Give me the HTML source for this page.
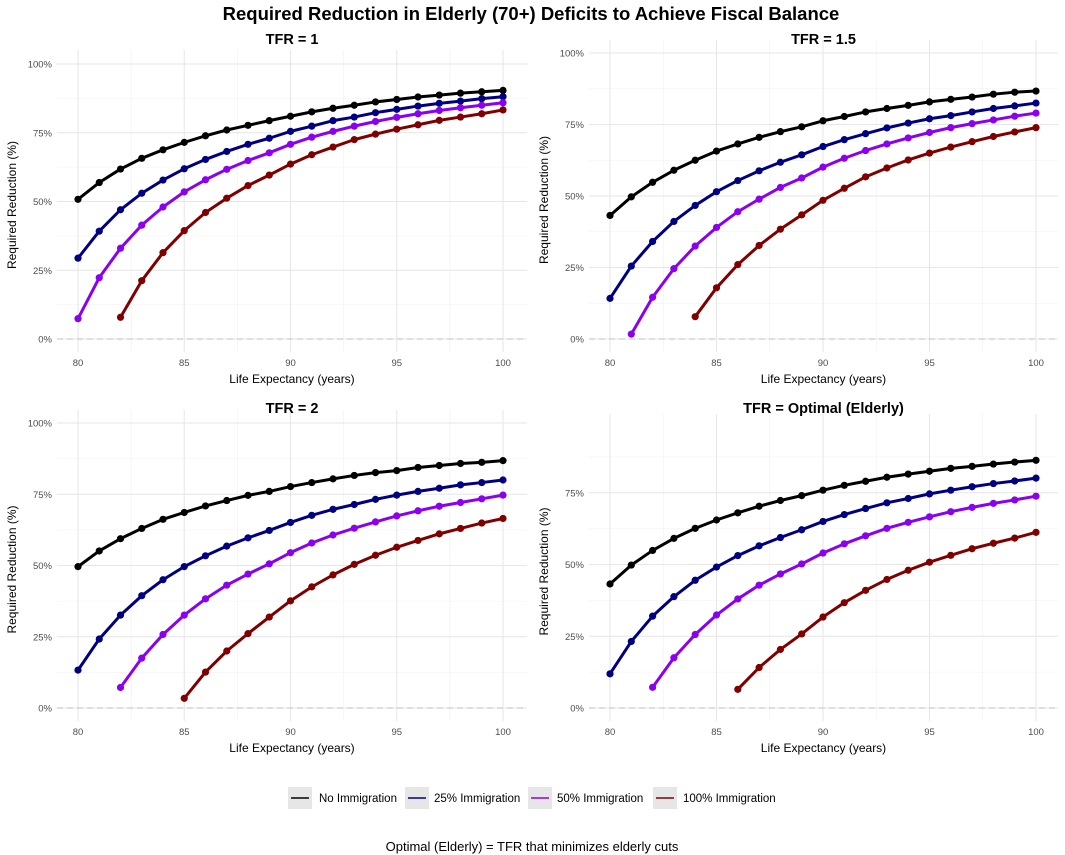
<!DOCTYPE html>
<html><head><meta charset="utf-8"><style>
html,body{margin:0;padding:0;background:#fff;}
svg{display:block;font-family:"Liberation Sans",Arial,sans-serif;}
</style></head><body>
<svg id="chart" width="1065" height="855" viewBox="0 0 1065 855" xmlns="http://www.w3.org/2000/svg">
<text x="531" y="20" text-anchor="middle" font-size="18.5" font-weight="bold">Required Reduction in Elderly (70+) Deficits to Achieve Fiscal Balance</text>
<g id="panels"></g>
<g>
 <g><rect x="288" y="787" width="24" height="22" fill="#e6e6e6"/><line x1="291" y1="798" x2="309" y2="798" stroke="#000" stroke-width="1.5"/><text x="319" y="802" font-size="11.5">No Immigration</text></g>
 <g><rect x="405" y="787" width="24" height="22" fill="#e6e6e6"/><line x1="408" y1="798" x2="426" y2="798" stroke="#000080" stroke-width="1.5"/><text x="434" y="802" font-size="11.5">25% Immigration</text></g>
 <g><rect x="528" y="787" width="24" height="22" fill="#e6e6e6"/><line x1="531" y1="798" x2="549" y2="798" stroke="#8B00EE" stroke-width="1.5"/><text x="557" y="802" font-size="11.5">50% Immigration</text></g>
 <g><rect x="653" y="787" width="24" height="22" fill="#e6e6e6"/><line x1="656" y1="798" x2="674" y2="798" stroke="#800000" stroke-width="1.5"/><text x="683" y="802" font-size="11.5">100% Immigration</text></g>
</g>
<text x="532" y="851" text-anchor="middle" font-size="13">Optimal (Elderly) = TFR that minimizes elderly cuts</text>
</svg>
<script>
const years = [80,81,82,83,84,85,86,87,88,89,90,91,92,93,94,95,96,97,98,99,100];
const seriesNames = ["No Immigration","25% Immigration","50% Immigration","100% Immigration"];
const seriesColors = ["#000000","#000080","#8B00EE","#800000"];
const xTicks = [80,85,90,95,100];
const yTickLabels = ["0%","25%","50%","75%","100%"];
const yTicks = [0,25,50,75,100];
// TFR = 1
const tfr1_none = [50.8,56.9,61.8,65.7,68.8,71.5,73.9,76,77.7,79.4,81,82.6,83.9,85,86.2,87.1,88,88.7,89.4,89.9,90.4];
const tfr1_25 = [29.4,39.2,47,53,57.8,61.9,65.3,68.2,70.8,73,75.5,77.4,79.4,80.7,82.3,83.5,84.7,85.7,86.5,87.4,88.1];
const tfr1_50 = [7.4,22.3,33,41.4,48,53.5,57.9,61.7,64.9,67.7,70.8,73.4,75.5,77.4,79.1,80.6,81.9,83.1,84.1,85,85.9];
const tfr1_100 = [null,null,7.9,21.2,31.4,39.4,46,51.2,55.8,59.6,63.6,67,69.8,72.5,74.5,76.3,77.9,79.5,80.7,81.9,83.3];
// TFR = 1.5
const tfr15_none = [43.2,49.7,54.8,59,62.5,65.7,68.2,70.5,72.5,74.2,76.3,77.8,79.4,80.6,81.7,82.9,83.8,84.6,85.6,86.3,86.7];
const tfr15_25 = [14.2,25.5,34.1,41.1,46.7,51.5,55.4,58.8,61.8,64.4,67.3,69.7,71.8,73.8,75.5,77,78.1,79.4,80.6,81.5,82.5];
const tfr15_50 = [null,1.7,14.6,24.6,32.5,39,44.5,48.9,53,56.3,60.1,63.2,65.9,68.2,70.3,72.2,73.9,75.3,76.6,77.9,79];
const tfr15_100 = [null,null,null,null,7.8,17.9,26,32.7,38.4,43.4,48.5,52.7,56.7,59.8,62.6,65,67.1,69,70.8,72.4,73.9];
// TFR = 2
const tfr2_none = [49.6,55.1,59.4,63,66.2,68.6,70.9,72.8,74.6,76,77.7,79.1,80.4,81.6,82.6,83.3,84.4,85.1,85.8,86.2,86.8];
const tfr2_25 = [13.3,24.2,32.6,39.4,45,49.6,53.4,56.8,59.7,62.3,65.1,67.6,69.7,71.4,73.2,74.7,76,77.1,78.3,79.1,80];
const tfr2_50 = [null,null,7.2,17.5,25.8,32.6,38.3,43.1,47,50.6,54.5,57.9,60.7,63.1,65.3,67.4,69.2,70.8,72.1,73.4,74.7];
const tfr2_100 = [null,null,null,null,null,3.4,12.6,20,26.1,31.9,37.6,42.5,46.7,50.4,53.6,56.4,58.8,61.1,63,64.9,66.5];
// TFR = Optimal (Elderly)
const opt_none = [43.2,49.8,54.9,59.1,62.6,65.5,68,70.3,72.3,74,75.9,77.6,79,80.4,81.5,82.5,83.5,84.2,85,85.7,86.3];
const opt_25 = [11.9,23.2,32,38.8,44.5,49.1,53.1,56.5,59.4,62.1,65,67.4,69.5,71.5,73,74.6,75.9,77.1,78.2,79.1,80.1];
const opt_50 = [null,null,7.2,17.5,25.6,32.4,38,42.8,46.7,50.2,54,57.2,60,62.6,64.7,66.6,68.4,69.9,71.3,72.5,73.8];
const opt_100 = [null,null,null,null,null,null,6.5,14.1,20.4,25.8,31.7,36.7,41,44.8,48,50.8,53.2,55.5,57.4,59.2,61.2];

const NS="http://www.w3.org/2000/svg";
const panelsG=document.getElementById('panels');
function mk(tag,attrs,parent){const e=document.createElementNS(NS,tag);for(const k in attrs)e.setAttribute(k,attrs[k]);parent.appendChild(e);return e;}

const panels=[
 {title:"TFR = 1",name:"panel-tfr-1",data:[tfr1_none,tfr1_25,tfr1_50,tfr1_100],x0:78,x1:503,y0:339,y100:64,top:50,bottom:352,left:57,right:527,titleY:44,show100:true},
 {title:"TFR = 1.5",name:"panel-tfr-1-5",data:[tfr15_none,tfr15_25,tfr15_50,tfr15_100],x0:610,x1:1036,y0:339,y100:53,top:40,bottom:352,left:589,right:1058,titleY:44,show100:true},
 {title:"TFR = 2",name:"panel-tfr-2",data:[tfr2_none,tfr2_25,tfr2_50,tfr2_100],x0:78,x1:503,y0:708,y100:423,top:410,bottom:721,left:57,right:527,titleY:413,show100:true},
 {title:"TFR = Optimal (Elderly)",name:"panel-tfr-optimal",data:[opt_none,opt_25,opt_50,opt_100],x0:610,x1:1036,y0:708,y100:421,top:414,bottom:721,left:589,right:1058,titleY:413,show100:false}
];

panels.forEach(p=>{
 const g=mk('g',{},panelsG);
 
 
 const xs=v=>p.x0+(v-80)*(p.x1-p.x0)/20;
 const ys=v=>p.y0-v*(p.y0-p.y100)/100;
 for(let v=12.5;v<100;v+=25){const y=ys(v);if(y>p.top&&y<p.bottom)mk('line',{x1:p.left,x2:p.right,y1:y,y2:y,stroke:'#f0f0f0','stroke-width':0.6},g);}
 for(let v=77.5;v<=102.5;v+=5){const x=xs(v);if(x>p.left&&x<p.right)mk('line',{x1:x,x2:x,y1:p.top,y2:p.bottom,stroke:'#f0f0f0','stroke-width':0.6},g);}
 yTicks.forEach((v,i)=>{
  if(v===100&&!p.show100)return;
  const y=ys(v);
  mk('line',{x1:p.left,x2:p.right,y1:y,y2:y,stroke:'#e6e6e6','stroke-width':1},g);
  const t=mk('text',{x:p.left-5,y:y+3.5,'text-anchor':'end','font-size':9.5,fill:'#4d4d4d'},g);
  t.textContent=yTickLabels[i];
  
  
 });
 xTicks.forEach(v=>{
  const x=xs(v);
  mk('line',{x1:x,x2:x,y1:p.top,y2:p.bottom,stroke:'#e6e6e6','stroke-width':1},g);
  const t=mk('text',{x:x,y:p.bottom+14,'text-anchor':'middle','font-size':9.5,fill:'#4d4d4d'},g);
  t.textContent=v;
  
  
 });
 mk('line',{x1:p.left,x2:p.right,y1:ys(0),y2:ys(0),stroke:'#cccccc','stroke-width':1.2,'stroke-dasharray':'6,4'},g);
 const tt=mk('text',{x:(p.left+p.right)/2,y:p.titleY,'text-anchor':'middle','font-size':14.5,'font-weight':'bold'},g);
 tt.textContent=p.title;
 
 
 const xt=mk('text',{x:(p.left+p.right)/2,y:p.bottom+31,'text-anchor':'middle','font-size':12},g);
 xt.textContent="Life Expectancy (years)";
 
 
 const yc=(p.top+p.bottom)/2+4, yx=p.left-41;
 const yt=mk('text',{x:yx,y:yc,'text-anchor':'middle','font-size':12,transform:`rotate(-90 ${yx} ${yc})`},g);
 yt.textContent="Required Reduction (%)";
 
 
 p.data.forEach((vals,si)=>{
  const sg=mk('g',{},g);
  
  
  const pts=[];
  vals.forEach((v,i)=>{if(v!==null)pts.push([xs(years[i]),ys(v)]);});
  const ln=mk('polyline',{points:pts.map(q=>q.join(',')).join(' '),fill:'none',stroke:seriesColors[si],'stroke-width':3,'stroke-linejoin':'round','stroke-linecap':'round'},sg);
  
  
  pts.forEach(q=>{
   const c=mk('circle',{cx:q[0],cy:q[1],r:3.6,fill:seriesColors[si]},sg);
   
   
  });
 });
});
</script>
</body></html>
